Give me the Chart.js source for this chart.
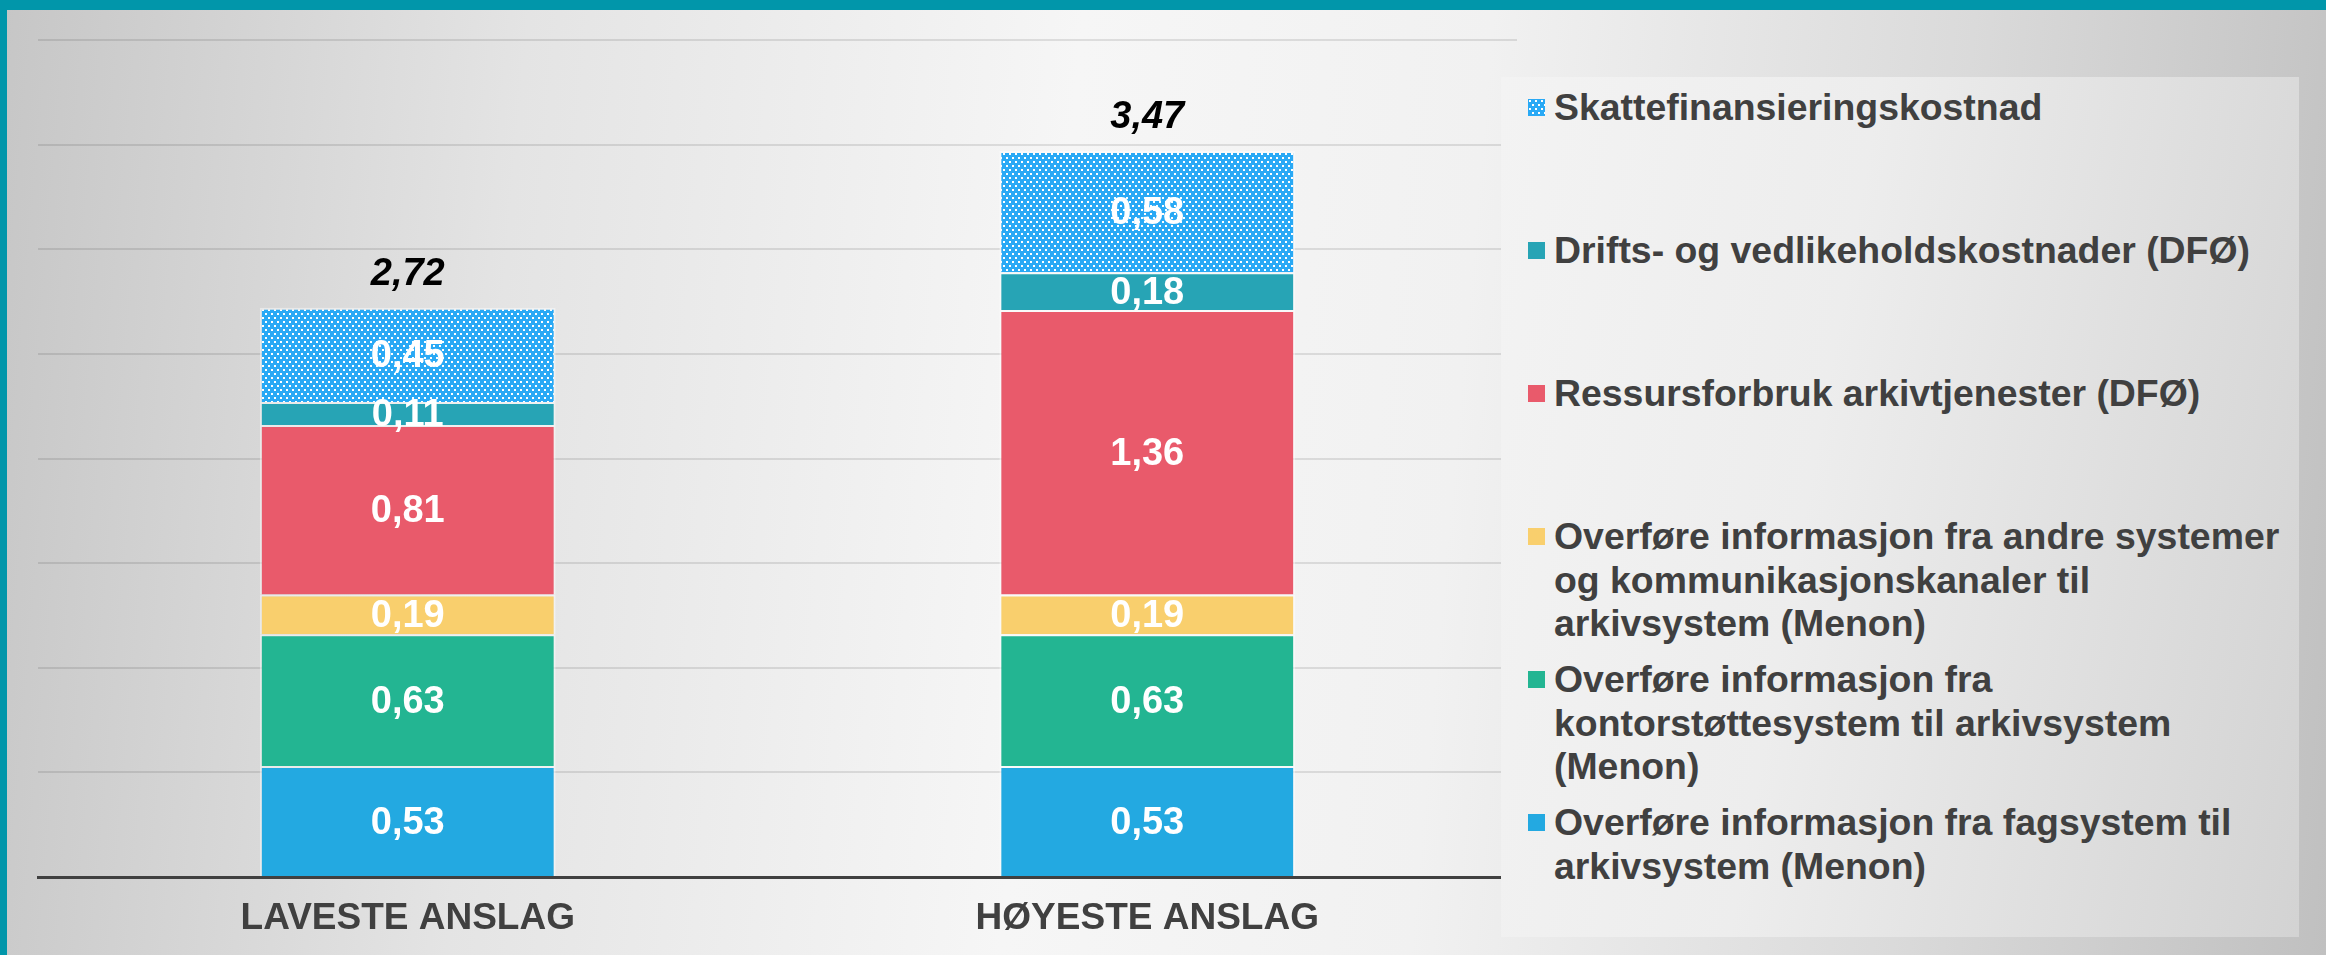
<!DOCTYPE html>
<html>
<head>
<meta charset="utf-8">
<script src="https://cdn.jsdelivr.net/npm/chart.js@4.4.0/dist/chart.umd.min.js"></script>
<style>
  html, body { margin: 0; padding: 0; }
  body {
    width: 2326px; height: 955px; overflow: hidden; position: relative;
    background: linear-gradient(95deg, #c6c6c6 0%, #e4e4e4 22%, #f6f6f6 45%, #f1f1f1 62%, #dadada 82%, #c0c0c0 100%);
    font-family: "Liberation Sans", Arial, sans-serif;
  }
  #chart { position: absolute; left: 0; top: 0; }
  .frame-top { position: absolute; left: 0; top: 0; width: 2326px; height: 10px; background: #0196aa; z-index: 3; }
  .frame-left { position: absolute; left: 0; top: 0; width: 7px; height: 955px; background: #0196aa; z-index: 3; }
  #legend {
    position: absolute; left: 1501px; top: 77px; width: 798px; height: 860px; z-index: 2;
    background: linear-gradient(100deg, #f3f3f3 0%, #ededed 40%, #d3d3d3 100%);
  }
  .item { position: absolute; left: 53px; color: #404040; font-weight: bold; font-size: 37.4px; line-height: 43.5px; white-space: nowrap; }
  .box { position: absolute; left: -26px; top: 13px; width: 17px; height: 17px; }
</style>
</head>
<body>
<div class="frame-top"></div>
<div class="frame-left"></div>
<canvas id="chart" width="2326" height="955"></canvas>
<div id="legend"></div>
<script>
// Categories and series (bottom to top of each stack)
const categories = ['LAVESTE ANSLAG', 'HØYESTE ANSLAG'];

const fagsystem = [0.53, 0.53];
const kontorstotte = [0.63, 0.63];
const andreSystemer = [0.19, 0.19];
const ressursforbruk = [0.81, 1.36];
const drift = [0.11, 0.18];
const skattefinansiering = [0.45, 0.58];

const seriesNames = [
    ['Overføre informasjon fra fagsystem til', 'arkivsystem (Menon)'],
    ['Overføre informasjon fra', 'kontorstøttesystem til arkivsystem', '(Menon)'],
    ['Overføre informasjon fra andre systemer', 'og kommunikasjonskanaler til', 'arkivsystem (Menon)'],
    ['Ressursforbruk arkivtjenester (DFØ)'],
    ['Drifts- og vedlikeholdskostnader (DFØ)'],
    ['Skattefinansieringskostnad']
];
const seriesColors = ['#23a9e1', '#23b592', '#f9cf6d', '#e95a6b', '#27a4b5', '#29a9f5'];

const fmt = v => v.toFixed(2).replace('.', ',');

// Dotted fill used for the top segment
function dotPattern(color) {
    const c = document.createElement('canvas');
    c.width = 6; c.height = 8;
    const g = c.getContext('2d');
    g.fillStyle = color;
    g.fillRect(0, 0, 6, 8);
    g.fillStyle = '#ffffff';
    g.fillRect(1, 1, 2, 2);
    g.fillRect(4, 5, 2, 2);
    return c;
}
const patternTile = dotPattern(seriesColors[5]);
const ctx = document.getElementById('chart').getContext('2d');
const skattePattern = ctx.createPattern(patternTile, 'repeat');

const seriesData = [fagsystem, kontorstotte, andreSystemer, ressursforbruk, drift, skattefinansiering];
const datasets = seriesData.map((data, i) => ({
    label: seriesNames[i].join(' '),
    data: data,
    backgroundColor: i === 5 ? skattePattern : seriesColors[i],
    borderColor: 'rgba(255,255,255,0.45)',
    borderWidth: 2,
    barPercentage: 0.8,
    categoryPercentage: 0.5
}));

const fontFamily = '"Liberation Sans", Arial, sans-serif';

// Value labels inside segments plus totals above each bar
const labelPlugin = {
    id: 'segmentLabels',
    afterDatasetsDraw(chart) {
        const c = chart.ctx;
        c.save();
        c.textAlign = 'center';
        c.textBaseline = 'middle';
        c.font = 'bold 38px ' + fontFamily;
        c.fillStyle = '#ffffff';
        chart.data.datasets.forEach((ds, i) => {
            chart.getDatasetMeta(i).data.forEach((bar, j) => {
                c.fillText(fmt(ds.data[j]), bar.x, (bar.y + bar.base) / 2 + 2);
            });
        });
        const topBars = chart.getDatasetMeta(chart.data.datasets.length - 1).data;
        c.font = 'italic bold 38px ' + fontFamily;
        c.fillStyle = '#000000';
        topBars.forEach((bar, j) => {
            const total = seriesData.reduce((s, arr) => s + arr[j], 0);
            c.fillText(fmt(total), bar.x, bar.y - 33);
        });
        c.restore();
    }
};

new Chart(ctx, {
    type: 'bar',
    data: { labels: categories, datasets: datasets },
    options: {
        responsive: false,
        animation: false,
        layout: { padding: { left: 38, right: 809, top: 40, bottom: 14 } },
        plugins: {
            legend: { display: false },
            tooltip: { enabled: false }
        },
        scales: {
            x: {
                stacked: true,
                grid: { display: false, drawTicks: false },
                border: { display: true, color: '#404040', width: 3 },
                ticks: {
                    color: '#404040',
                    padding: 20,
                    font: { family: fontFamily, size: 37, weight: 'bold' }
                },
                afterFit(scale) { scale.height = 64; }
            },
            y: {
                stacked: true,
                min: 0,
                max: 4,
                ticks: { display: false, stepSize: 0.5 },
                grid: { color: 'rgba(0,0,0,0.1)', lineWidth: 2, drawTicks: false },
                border: { display: false }
            }
        }
    },
    plugins: [labelPlugin]
});

// Legend, top entry first
const legend = document.getElementById('legend');
const patternUrl = patternTile.toDataURL();
for (let k = 0; k < seriesNames.length; k++) {
    const i = seriesNames.length - 1 - k;
    const item = document.createElement('div');
    item.className = 'item';
    item.style.top = (9 + k * 143) + 'px';
    const box = document.createElement('div');
    box.className = 'box';
    if (i === 5) {
        box.style.backgroundImage = 'url(' + patternUrl + ')';
    } else {
        box.style.background = seriesColors[i];
    }
    item.appendChild(box);
    seriesNames[i].forEach((line, n) => {
        if (n > 0) item.appendChild(document.createElement('br'));
        item.appendChild(document.createTextNode(line));
    });
    legend.appendChild(item);
}
</script>
</body>
</html>
